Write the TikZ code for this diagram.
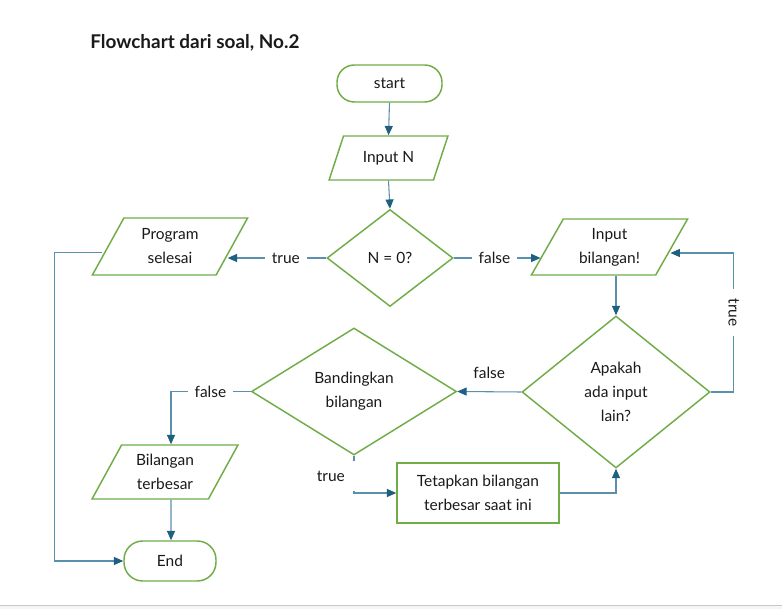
\documentclass[tikz,border=0pt]{standalone}
\usepackage{fontspec}
\setmainfont{Lato}
\usetikzlibrary{shapes.geometric,arrows.meta,calc}
\definecolor{grn}{HTML}{70AD47}
\definecolor{lnc}{HTML}{5A8FAD}
\definecolor{arc}{HTML}{1F5F80}
\definecolor{txt}{HTML}{1A1A1A}
\begin{document}
\begin{tikzpicture}[x=0.75pt,y=-0.75pt,
  base/.style={draw=grn, line width=1.1pt, font=\fontsize{11.6}{18}\selectfont, align=center, inner sep=0pt, text=txt},
  term/.style={base, rectangle, rounded corners=13pt},
  io/.style={base, trapezium, trapezium stretches=true, trapezium left angle=61, trapezium right angle=119},
  dec/.style={base, diamond},
  proc/.style={base, rectangle},
  conn/.style={draw=lnc, line width=0.8pt, -{Triangle[length=7pt,width=6pt,color=arc]}},
  lbl/.style={font=\fontsize{11.6}{13}\selectfont, text=txt, fill=white, inner xsep=5pt, inner ysep=2pt}
]
\useasboundingbox (0,0) rectangle (782,609);
\fill[white] (0,0) rectangle (782,609);
\fill[black!4] (0,605) rectangle (782,609);
\draw[black!22, line width=0.75pt] (0,605) -- (782,605);

\node[anchor=west, inner sep=0pt, font=\bfseries\fontsize{14.2}{16}\selectfont, text=txt] (title) at (90,43) {Flowchart dari soal, No.2};

\node[term, minimum width=78.75pt, minimum height=27.75pt] (st) at (389.5,83.5) {start};
\node[io, minimum width=89.25pt, minimum height=33pt, trapezium left angle=59, trapezium right angle=121] (in1) at (388.5,158) {Input N};
\node[dec, minimum width=94.5pt, minimum height=72.75pt] (d1) at (390,258) {N = 0?};
\node[io, minimum width=117pt, minimum height=42.75pt] (ps) at (170,246.5) {Program\\selesai};
\node[io, minimum width=117.75pt, minimum height=42pt] (ib) at (609.5,247) {Input\\bilangan!};
\node[dec, minimum width=141pt, minimum height=114pt] (d2) at (616,392) {Apakah\\ada input\\lain?};
\node[dec, minimum width=153.75pt, minimum height=95.25pt] (d3) at (354,391.5) {Bandingkan\\bilangan};
\node[io, minimum width=109.5pt, minimum height=40.5pt] (bt) at (165,472) {Bilangan\\terbesar};
\node[term, minimum width=69pt, minimum height=30pt, rounded corners=14pt] (en) at (170,561) {End};
\node[proc, minimum width=121.5pt, minimum height=45pt] (tt) at (478,493) {Tetapkan bilangan\\terbesar saat ini};

\draw[conn] (st.south) -- (in1.north);
\draw[conn] (in1.south) -- (d1.north);
\draw[conn] (d1.west) -- node[lbl, pos=0.41] {true} ($(d1.west -| ps.east)+(-5,0)$);
\draw[conn] (d1.east) -- node[lbl, pos=0.47] {false} ($(d1.east -| ib.west)+(-6,0)$);
\draw[conn] (d2.north |- ib.south) -- (d2.north);
\draw[conn] (d2.east) -- ++(23,0) |- node[lbl, rotate=-90, inner xsep=7pt, pos=0.286] {true} ($(ib.east)+(-2,6)$);
\draw[conn] (d2.west) -- node[font=\fontsize{11.6}{13}\selectfont, text=txt, yshift=14pt] {false} (d3.east);
\draw[conn] (d3.west) -| node[lbl, pos=0.253] {false} ($(bt.north)+(6,0)$);
\draw[conn] ($(bt.south)+(6,0)$) -- ($(en.north)+(1,0)$);
\draw[conn] ($(ps.west)+(-5,6)$) -- ++(-48,0) |- (en.west);
\draw[conn] (d3.south) |- (tt.west);
\draw[conn] (tt.east) -| (d2.south);
\node[lbl, align=left, text width=28pt, inner xsep=2pt, minimum height=22pt, anchor=west] (tl) at (314,476) {true};
\end{tikzpicture}
\end{document}
